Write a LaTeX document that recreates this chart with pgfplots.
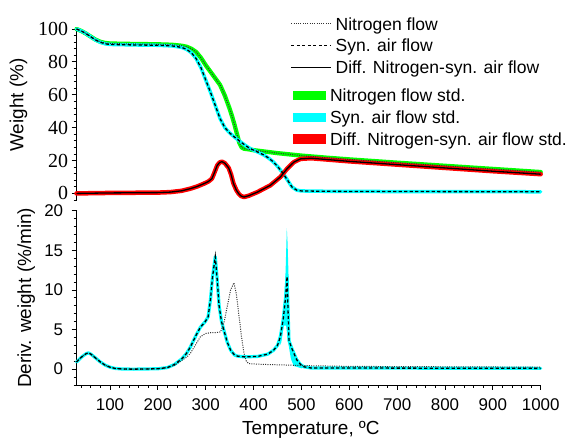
\documentclass[border=0pt]{standalone}
\usepackage{pgfplots}
\usepackage{pgfplotstable}
\pgfplotsset{compat=1.18}
\usepackage{fontspec}
\setmainfont{Liberation Sans}
\newfontfamily\serifnum{Liberation Serif}
\definecolor{bandgreen}{RGB}{0,255,0}
\definecolor{bandcyan}{RGB}{0,255,255}
\definecolor{bandred}{RGB}{255,0,0}

\pgfplotstableread{
x y
30 100
40 98.8
50 97.2
60 95.3
70 93.5
80 92.2
90 91.5
100 91.2
125 91.0
150 90.9
200 90.7
230 90.4
250 89.8
260 89.2
270 88.0
280 86.0
290 82.5
300 78.0
310 74.0
320 70.0
330 66.0
340 59.5
345 55.5
350 51.5
355 47.0
360 42.0
365 36.5
370 31.0
375 28.0
380 27.2
390 26.8
400 26.3
450 24.5
500 23.0
550 21.8
600 20.7
700 18.7
800 16.8
900 14.9
1000 13.0
}\WN

\pgfplotstableread{
x y
30 100
40 98.8
50 97.2
60 95.2
70 93.3
80 91.9
90 91.0
100 90.6
150 90.3
200 90.1
230 89.7
250 88.8
260 87.6
270 85.6
280 82.0
290 76.5
300 69.0
310 61.5
320 53.5
330 45.5
340 40.0
350 36.8
360 34.3
370 32.0
380 29.8
390 27.8
400 26.3
410 25.0
420 23.6
430 21.8
440 19.5
450 16.5
460 12.8
470 8.5
480 4.0
490 2.0
500 1.5
550 1.3
600 1.2
800 1.1
1000 1.0
}\WA

\pgfplotstableread{
x y
30 0
100 0.3
200 0.5
226 0.8
250 1.6
268 2.9
282 4.2
296 5.9
306 7.3
313 9
318 12.5
324 17
329 18.8
334 19.3
340 18.4
348 15.5
353 11.5
358 6
364 2
369 -0.2
374 -1.6
380 -2.2
390 -1.4
408 0.8
435 4.9
456 10
470 15
484 19
498 21
520 21.4
600 19.5
700 17.5
800 15.5
900 13.5
1000 11.7
}\WD

\pgfplotstableread{
x y
30 0.9
40 1.5
50 1.95
55 2.05
60 1.9
70 1.4
80 0.9
90 0.5
100 0.25
110 0.1
125 0.02
150 0
200 0.05
220 0.2
235 0.6
250 1.3
260 2.0
268 2.8
280 4.3
289 5.3
299 6.0
305 6.6
310 8.8
314 11.5
320 14.2
324 11.3
328 8.0
333 6.0
338 4.9
345 3.4
352 2.4
360 1.8
366 1.65
380 1.55
408 1.6
430 1.9
442 2.4
450 3.0
456 4.1
462 6.3
467 9.1
470 11.7
472 7.5
474 3.6
480 2.6
485 1.9
490 1.2
498 0.6
505 0.3
520 0.15
1000 0.1
}\DA

\pgfplotstableread{
x y
30 0.9
40 1.5
50 1.95
55 2.05
60 1.9
70 1.4
80 0.9
90 0.5
100 0.25
110 0.1
125 0.02
150 0
200 0.05
220 0.2
235 0.5
250 1.1
260 1.5
268 2.0
280 3.2
289 4.1
300 4.5
310 4.6
320 4.6
331 4.7
338 5.8
345 7.9
352 10.0
359 10.9
364 9.5
369 7.0
375 4.0
380 2.0
385 1.0
390 0.7
420 0.6
480 0.5
500 0.45
600 0.35
800 0.3
1000 0.25
}\DN

\pgfplotsset{
  common/.style={
    scale only axis, width=464.2bp, xmin=30, xmax=1000,
    anchor=south west, clip=false,
    tick align=outside, major tick length=5bp, minor tick length=3bp,
    tick style={black, line width=0.8bp},
    axis line style={black, line width=1bp},
    /pgf/number format/assume math mode=true,
    /pgf/number format/1000 sep={},
  },
  dotline/.style={black!80, line width=1bp, dash pattern=on 1bp off 1.3bp},
  dashline/.style={black, line width=1.3bp, dash pattern=on 3.2bp off 2.3bp},
  solidline/.style={black, line width=1.3bp},
  band/.style={line width=#1, line join=round, line cap=round},
}

\begin{document}
\begin{tikzpicture}
\useasboundingbox (0,0) rectangle (568bp,444bp);

% bottom panel: derivative
\begin{axis}[common,
  at={(76.5bp,59bp)}, height=174.3bp,
  ymin=-2, ymax=20,
  axis x line*=bottom, axis y line*=left,
  xtick={100,200,...,1000}, minor xtick={40,60,...,1000},
  ytick={0,5,...,20}, minor ytick={-2,-1,...,20},
  tick label style={font=\fontsize{17}{20}\selectfont},
  xticklabel style={anchor=base, inner sep=0pt, yshift=-20bp},
  yticklabel style={anchor=east, inner sep=0pt, xshift=-8.2bp},
  xlabel={Temperature, ºC},
  ylabel={Deriv. weight (\%/min)},
  label style={font=\fontsize{19}{22}\selectfont},
  xlabel style={at={(axis description cs:0.505,-0.2828)}, anchor=base, inner sep=0pt},
  ylabel style={at={(axis description cs:-0.098,0.5)}, anchor=base, inner sep=0pt},
]
\addplot[fill=bandcyan, draw=none, forget plot] coordinates {
(455,3.5) (460,5) (464,8) (467,12.5) (469.5,17.8) (471,16) (473,12) (474.5,6) (476,3.5) (482,2.6) (490,1.6) (500,0.5) (504,0.2)
(500,0.1) (490,0.3) (484,0.4) (478,1.3) (472,3.5) (468,5.5) (463,5.5) (458,3.4) (455,3.0)};
\addplot[bandcyan, band=3.2bp, forget plot] table {\DA};
\addplot[dotline] table {\DN};
\addplot[dashline] table {\DA};
\end{axis}

% top panel: weight
\begin{axis}[common,
  at={(76.5bp,244bp)}, height=171bp,
  ymin=-4, ymax=100,
  axis x line=none, axis y line*=left,
  ytick={0,20,...,100}, minor ytick={-4,0,...,100},
  yticklabel={\serifnum\fontsize{20}{24}\selectfont\pgfmathprintnumber{\tick}},
  yticklabel style={anchor=east, inner sep=0pt, xshift=-3.2bp},
  ylabel={Weight (\%)},
  ylabel style={font=\fontsize{19}{22}\selectfont, at={(axis description cs:-0.1142,0.5556)}, anchor=base, inner sep=0pt},
  legend cell align=left,
  legend image code/.code={\draw[#1] (0bp,0bp) -- (40bp,0bp);},
  legend style={at={(axis description cs:0.4608,1.071)}, anchor=north west,
    draw=none, fill=none, inner sep=0pt, row sep=8.3bp, column sep=3.7bp,
    nodes={inner sep=0pt, text height=13bp, text depth=0.4bp, font=\fontsize{17.6}{21}\selectfont}},
]
\addplot[bandgreen, band=4.3bp, forget plot] table {\WN};
\addplot[bandcyan, band=3.5bp, forget plot] table {\WA};
\addplot[bandred, band=4.5bp, forget plot] table {\WD};
\addplot[dotline] table {\WN};
\addplot[dashline] table {\WA};
\addplot[solidline] table {\WD};
\legend{Nitrogen flow, Syn. air flow, Diff. Nitrogen-syn. air flow}
\end{axis}

% second legend for std bands
\begin{axis}[common,
  at={(76.5bp,244bp)}, height=171bp,
  ymin=-4, ymax=100, hide axis,
  legend cell align=left,
  legend image code/.code={\fill[#1] (0bp,-4.15bp) rectangle (32.3bp,4.15bp);},
  legend style={at={(axis description cs:0.4658,0.652)}, anchor=north west,
    draw=none, fill=none, inner sep=0pt, row sep=8.3bp, column sep=4.4bp,
    nodes={inner sep=0pt, text height=13bp, text depth=0.4bp, font=\fontsize{17.6}{21}\selectfont}},
]
\addlegendimage{bandgreen}
\addlegendentry{Nitrogen flow std.}
\addlegendimage{bandcyan}
\addlegendentry{Syn. air flow std.}
\addlegendimage{bandred}
\addlegendentry{Diff. Nitrogen-syn. air flow std.}
\end{axis}
\end{tikzpicture}
\end{document}
